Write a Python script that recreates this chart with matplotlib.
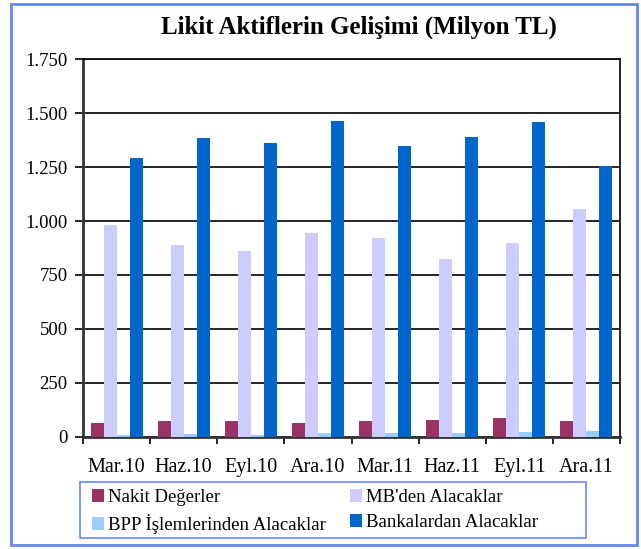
import numpy as np
import matplotlib.pyplot as plt
from matplotlib.ticker import FuncFormatter
from matplotlib.patches import Rectangle

plt.rcParams['font.family'] = ['Liberation Serif', 'DejaVu Serif']

# data (Milyon TL)
periods = ['Mar.10', 'Haz.10', 'Eyl.10', 'Ara.10', 'Mar.11', 'Haz.11', 'Eyl.11', 'Ara.11']
nakit = [65, 74, 74, 65, 74, 79, 88, 74]
mb = [981, 889, 861, 945, 921, 824, 898, 1055]
bpp = [8, 14, 8, 19, 19, 19, 23, 28]
banka = [1293, 1385, 1362, 1464, 1348, 1390, 1460, 1255]

series = [nakit, mb, bpp, banka]
names = ['Nakit Değerler', "MB'den Alacaklar", 'BPP İşlemlerinden Alacaklar', 'Bankalardan Alacaklar']
colors = ['#993366', '#CCCCFF', '#99CCFF', '#0066CC']

fig = plt.figure(figsize=(6.41, 5.49), dpi=100)
ax = fig.add_axes([83/641, 1-436.7/549, (620-83)/641, (436.7-59.3)/549])

x = np.arange(len(periods))
w = 0.194
bars = []
for i, (s, c) in enumerate(zip(series, colors)):
    b = ax.bar(x + (i - 1.5) * w, s, w, color=c, zorder=3, linewidth=0)
    bars.append(b)

ax.set_xlim(-0.5, len(periods) - 0.5)
ax.set_ylim(0, 1750)
ax.set_yticks(np.arange(0, 1751, 250))
ax.yaxis.set_major_formatter(FuncFormatter(lambda v, p: f'{int(v):,}'.replace(',', '.')))
ax.grid(axis='y', color='black', linewidth=1.2, zorder=1)

ax.set_xticks(np.arange(-0.5, len(periods), 1))
ax.set_xticklabels([])
ax.set_xticks(x, minor=True)
ax.set_xticklabels(periods, minor=True, fontsize=14.5)
ax.tick_params(axis='x', which='minor', length=0, pad=15)
ax.tick_params(axis='x', which='major', length=5, width=1.2, direction='out')
ax.tick_params(axis='y', length=6, width=1.2, labelsize=13.5, pad=5)

for sp in ax.spines.values():
    sp.set_color('black')
    sp.set_linewidth(1.2)
ax.spines['left'].set_color('#333333')
ax.spines['left'].set_linewidth(2)
ax.spines['bottom'].set_color('#333333')
ax.spines['bottom'].set_linewidth(2)

fig.text(359/641, 1-27/549, 'Likit Aktiflerin Gelişimi (Milyon TL)', ha='center', va='center',
         fontsize=18, fontweight='bold')

order = [0, 2, 1, 3]
leg = fig.legend([bars[i] for i in order], [names[i] for i in order], ncol=2,
                 loc='upper left', bbox_to_anchor=(88/641, 1-485/549),
                 fontsize=13.5, frameon=False,
                 handlelength=0.65, handleheight=0.7, handletextpad=0.2, borderpad=0.2,
                 labelspacing=0.42, columnspacing=1.28, borderaxespad=0)

# legend box
fig.patches.append(Rectangle((80/641, 1-538/549), 506/641, 56/549, transform=fig.transFigure,
                             fill=False, edgecolor='#6688EE', linewidth=1.2))
# outer border
fig.patches.append(Rectangle((11/641, 4/549), 626/641, 541/549, transform=fig.transFigure,
                             fill=False, edgecolor='#6688EE', linewidth=2))

fig.savefig('out.png', dpi=100)
